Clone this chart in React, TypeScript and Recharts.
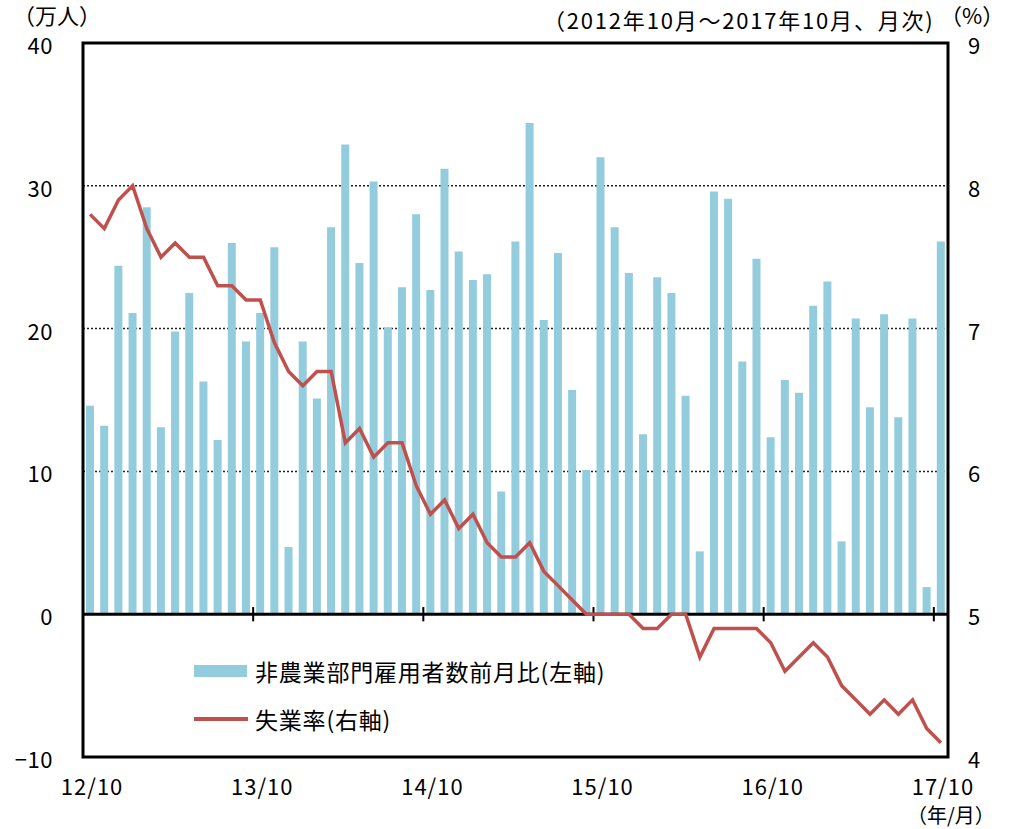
import React from 'react';
import {
  ComposedChart,
  Bar,
  Line,
  XAxis,
  YAxis,
  CartesianGrid,
  ReferenceLine,
  ReferenceArea,
} from 'recharts';

// 2012/10 .. 2017/10, monthly
const months: string[] = [];
for (let y = 2012, m = 10; months.length < 61; m++) {
  if (m > 12) { m = 1; y++; }
  months.push(`${String(y).slice(2)}/${m}`);
}

// 非農業部門雇用者数前月比 (万人)
const payrollChange = [
  14.6, 13.2, 24.4, 21.1, 28.5, 13.1, 19.8, 22.5, 16.3, 12.2, 26.0, 19.1,
  21.1, 25.7, 4.7, 19.1, 15.1, 27.1, 32.9, 24.6, 30.3, 20.1, 22.9, 28.0,
  22.7, 31.2, 25.4, 23.4, 23.8, 8.6, 26.1, 34.4, 20.6, 25.3, 15.7, 10.1,
  32.0, 27.1, 23.9, 12.6, 23.6, 22.5, 15.3, 4.4, 29.6, 29.1, 17.7, 24.9,
  12.4, 16.4, 15.5, 21.6, 23.3, 5.1, 20.7, 14.5, 21.0, 13.8, 20.7, 1.9,
  26.1,
];

// 失業率 (%)
const unemploymentRate = [
  7.8, 7.7, 7.9, 8.0, 7.7, 7.5, 7.6, 7.5, 7.5, 7.3, 7.3, 7.2,
  7.2, 6.9, 6.7, 6.6, 6.7, 6.7, 6.2, 6.3, 6.1, 6.2, 6.2, 5.9,
  5.7, 5.8, 5.6, 5.7, 5.5, 5.4, 5.4, 5.5, 5.3, 5.2, 5.1, 5.0,
  5.0, 5.0, 5.0, 4.9, 4.9, 5.0, 5.0, 4.7, 4.9, 4.9, 4.9, 4.9,
  4.8, 4.6, 4.7, 4.8, 4.7, 4.5, 4.4, 4.3, 4.4, 4.3, 4.4, 4.2,
  4.1,
];

const xTickIndex = [0, 12, 24, 36, 48, 60];
const xTickLabels = ['12/10', '13/10', '14/10', '15/10', '16/10', '17/10'];
const leftTicks = [-10, 0, 10, 20, 30, 40];
const rightTicks = [4, 5, 6, 7, 8, 9];

const data = months.map((m, i) => ({
  pos: i + 0.5,
  month: m,
  jobs: payrollChange[i],
  rate: unemploymentRate[i],
}));

const FONT = '"Noto Sans CJK JP", "Noto Sans", sans-serif';
const BAR = '#93CDDD';
const RED = '#C0504D';

const LeftTick = (props: any) => {
  const { x, y, payload } = props;
  const v = payload.value < 0 ? `−${Math.abs(payload.value)}` : String(payload.value);
  return (
    <text x={x - 30} y={y + 1} textAnchor="end" dominantBaseline="central" fontSize={22} letterSpacing={0.5} fontFamily={FONT} fill="#000">
      {v}
    </text>
  );
};

const RightTick = (props: any) => {
  const { x, y, payload } = props;
  return (
    <text x={x + 26} y={y + 1} textAnchor="middle" dominantBaseline="central" fontSize={22} fontFamily={FONT} fill="#000">
      {payload.value}
    </text>
  );
};

const BottomTick = (props: any) => {
  const { x, y, index } = props;
  const label = xTickLabels[index];
  return (
    <g>
      <text x={x + 2} y={y + 28} textAnchor="middle" dominantBaseline="central" fontSize={22} letterSpacing={1} fontFamily={FONT} fill="#000">
        {label}
      </text>
      {index === xTickLabels.length - 1 && (
        <text x={x + 10} y={y + 57} textAnchor="middle" dominantBaseline="central" fontSize={20} fontFamily={FONT} fill="#000">
          （年/月）
        </text>
      )}
    </g>
  );
};

export default function App() {
  return (
    <div style={{ position: 'absolute', left: 0, top: 0, width: 1025, height: 829, background: '#fff', fontFamily: FONT }}>
      <ComposedChart
        width={1025}
        height={829}
        data={data}
        margin={{ top: 43, right: 0, bottom: 0, left: 0 }}
      >
        <CartesianGrid
          yAxisId="left"
          vertical={false}
          stroke="#222"
          strokeWidth={1.5}
          strokeDasharray="2 2"
        />
        <XAxis
          dataKey="pos"
          type="number"
          domain={[0, 61]}
          ticks={xTickIndex.map((i) => i + 0.5)}
          interval={0}
          axisLine={false}
          tickLine={false}
          tickSize={0}
          tickMargin={0}
          height={72}
          tick={<BottomTick />}
        />
        <YAxis
          yAxisId="left"
          domain={[-10, 40]}
          ticks={leftTicks}
          interval={0}
          width={83}
          axisLine={false}
          tickLine={false}
          tickSize={0}
          tickMargin={0}
          tick={<LeftTick />}
        />
        <YAxis
          yAxisId="right"
          orientation="right"
          domain={[4, 9]}
          ticks={rightTicks}
          interval={0}
          width={77}
          axisLine={false}
          tickLine={false}
          tickSize={0}
          tickMargin={0}
          tick={<RightTick />}
        />
        <Bar yAxisId="left" dataKey="jobs" fill={BAR} barSize={8} isAnimationActive={false} />
        <ReferenceLine yAxisId="left" y={0} stroke="#000" strokeWidth={3} />
        {xTickIndex.slice(1).map((i) => (
          <ReferenceLine
            key={i}
            yAxisId="left"
            segment={[{ x: i, y: -0.5 }, { x: i, y: 0.5 }]}
            stroke="#000"
            strokeWidth={2}
          />
        ))}
        <Line
          yAxisId="right"
          dataKey="rate"
          stroke={RED}
          strokeWidth={3.5}
          dot={false}
          type="linear"
          isAnimationActive={false}
        />
        <ReferenceArea
          yAxisId="left"
          x1={0}
          x2={61}
          y1={-10}
          y2={40}
          fill="none"
          fillOpacity={0}
          stroke="#000"
          strokeWidth={3}
        />
      </ComposedChart>

      {/* header texts */}
      <div style={{ position: 'absolute', left: 13, top: 3, fontSize: 22, lineHeight: '22px' }}>（万人）</div>
      <div style={{ position: 'absolute', left: 543, top: 7, fontSize: 22, lineHeight: '24px', letterSpacing: 1.8 }}>
        （2012年10月～2017年10月、月次)
      </div>
      <div style={{ position: 'absolute', left: 940, top: 3, fontSize: 22, lineHeight: '22px' }}>（%）</div>

      {/* legend */}
      <div style={{ position: 'absolute', left: 194, top: 656, fontSize: 23, lineHeight: '30px' }}>
        <div style={{ display: 'flex', alignItems: 'center' }}>
          <span style={{ display: 'inline-block', width: 53, height: 12, background: BAR, marginRight: 8 }} />
          <span style={{ letterSpacing: 0.8 }}>非農業部門雇用者数前月比(左軸)</span>
        </div>
        <div style={{ display: 'flex', alignItems: 'center', marginTop: 18 }}>
          <span style={{ display: 'inline-block', width: 54, height: 4, background: RED, marginRight: 7 }} />
          <span style={{ letterSpacing: 0.8 }}>失業率(右軸)</span>
        </div>
      </div>
    </div>
  );
}
